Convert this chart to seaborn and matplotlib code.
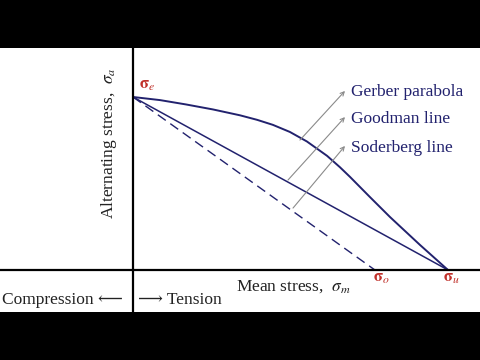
import matplotlib
matplotlib.use("Agg")
import matplotlib.pyplot as plt
import seaborn as sns

sns.set_theme(style="white")
plt.rcParams['font.family'] = ['Liberation Serif', 'DejaVu Serif', 'DejaVu Sans']
plt.rcParams['mathtext.fontset'] = 'stix'

# ---- data (normalised stresses) ----
sigma_e = 1.0      # endurance limit (alternating-stress intercept)
sigma_o = 0.768    # yield strength (Soderberg mean-stress intercept)
sigma_u = 1.0      # ultimate strength (Goodman / Gerber intercept)

gerber_mean = [0.0, 0.086, 0.168, 0.254, 0.340, 0.394, 0.444, 0.498, 0.552,
               0.616, 0.657, 0.689, 0.752, 0.816, 0.911, 1.0]
gerber_alt = [1.0, 0.982, 0.957, 0.928, 0.894, 0.868, 0.839, 0.798, 0.743,
              0.660, 0.594, 0.538, 0.422, 0.306, 0.145, 0.0]

goodman_mean = [0.0, sigma_u]
goodman_alt = [sigma_e, 0.0]
soderberg_mean = [0.0, sigma_o]
soderberg_alt = [sigma_e, 0.0]

curve_labels = ["Gerber parabola", "Goodman line", "Soderberg line"]

navy = "#22226e"
red = "#c0302a"

fig = plt.figure(figsize=(4.8, 3.6), dpi=100, facecolor="black")
ax = fig.add_axes([0, 48 / 360, 1, 264 / 360])
ax.set_facecolor("white")

sns.lineplot(x=gerber_mean, y=gerber_alt, ax=ax, color=navy, lw=1.4, sort=False, estimator=None)
sns.lineplot(x=goodman_mean, y=goodman_alt, ax=ax, color=navy, lw=1.1, estimator=None)
sns.lineplot(x=soderberg_mean, y=soderberg_alt, ax=ax, color=navy, lw=1.0,
             estimator=None, linestyle=(0, (7, 4)))

ax.axvline(0, color="black", lw=1.6, zorder=5)
ax.axhline(0, color="black", lw=1.6, zorder=5)

ax.set_xlim(-0.4222, 1.1016)
ax.set_ylim(-0.2428, 1.2832)
ax.set_xticks([])
ax.set_yticks([])
for s in ax.spines.values():
    s.set_visible(False)

# leader arrows from curves to labels
leader_from = [(0.530, 0.751), (0.492, 0.520), (0.508, 0.358)]
leader_to = [(0.673, 1.035), (0.673, 0.884), (0.673, 0.717)]
label_y = [1.029, 0.873, 0.705]
for lab, p0, p1, ly in zip(curve_labels, leader_from, leader_to, label_y):
    ax.annotate("", xy=p1, xytext=p0,
                arrowprops=dict(arrowstyle="->", color="#8a8a8a", lw=0.8,
                                shrinkA=0, shrinkB=0, mutation_scale=7))
    ax.text(0.693, ly, lab, color=navy, fontsize=12.5, ha="left", va="center")

# sigma markers
ax.text(0.044, 1.069, r"$\mathbf{\sigma}_{e}$", color=red, fontsize=12, ha="center", va="center")
ax.text(0.790, -0.046, r"$\mathbf{\sigma}_{o}$", color=red, fontsize=12, ha="center", va="center")
ax.text(1.013, -0.046, r"$\mathbf{\sigma}_{u}$", color=red, fontsize=12, ha="center", va="center")

# axis labels
ax.text(0.327, -0.098, r"Mean stress,  $\mathit{\sigma}_{m}$", color="#222222",
        fontsize=12.5, ha="left", va="center")
ax.text(-0.076, 0.73, r"Alternating stress,  $\mathit{\sigma}_{a}$", color="#222222",
        fontsize=12.5, ha="center", va="center", rotation=90)
ax.text(-0.415, -0.173, "Compression \u27f5", color="#222222", fontsize=12.5,
        ha="left", va="center")
ax.text(0.016, -0.173, "\u27f6 Tension", color="#222222", fontsize=12.5,
        ha="left", va="center")

fig.savefig("out.png", dpi=100, facecolor="black")
